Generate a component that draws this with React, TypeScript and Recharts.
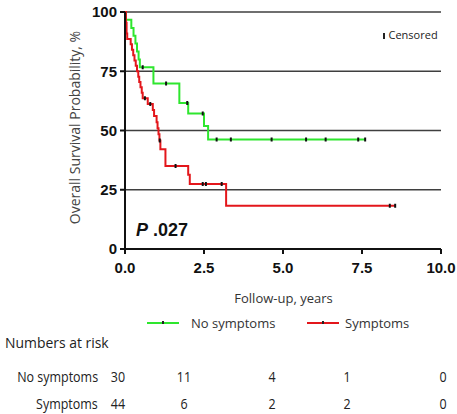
import React from "react";
import { LineChart, Line, XAxis, YAxis, CartesianGrid } from "recharts";

const seriesNames = ["No symptoms", "Symptoms"];
const seriesColors = ["#2ee62e", "#e3161b"];

// Kaplan-Meier steps: [time (years), survival %]
const noSymptomsSteps: [number, number][] = [
  [0, 100], [0.03, 96.7], [0.2, 93.3], [0.27, 90], [0.33, 86.7], [0.38, 83.3],
  [0.43, 80], [0.47, 76.7], [0.9, 69.8], [1.72, 61.6], [2.0, 57.2], [2.5, 51.9], [2.63, 46.2],
];
const noSymptomsCensored = [0.56, 1.3, 1.97, 2.46, 2.9, 3.35, 4.64, 5.73, 6.35, 7.38, 7.6];

const symptomsSteps: [number, number][] = [
  [0, 100], [0.03, 95.5], [0.05, 90.9], [0.07, 88.6], [0.18, 86.4], [0.22, 84.1], [0.26, 81.8],
  [0.3, 79.5], [0.34, 77.3], [0.38, 75], [0.42, 72.7], [0.45, 70.5], [0.49, 68.2], [0.53, 65.9],
  [0.56, 63.6], [0.72, 61.2], [0.88, 58.7], [0.92, 56.1], [1.0, 53.5], [1.03, 51], [1.06, 48.4],
  [1.09, 45.8], [1.12, 42.1], [1.28, 35], [2.0, 31.3], [2.05, 27.4], [3.2, 18.2],
];
const symptomsCensored = [0.63, 0.8, 1.1, 1.6, 2.46, 2.56, 3.06, 8.38, 8.55];

const xTicks = [0, 2.5, 5, 7.5, 10];
const yTicks = [0, 25, 50, 75, 100];
const riskLabels = ["No symptoms", "Symptoms"];
const noSymptomsAtRisk = [30, 11, 4, 1, 0];
const symptomsAtRisk = [44, 6, 2, 2, 0];
const pValueText = ".027";

type Pt = { t: number; s: number; c: boolean };

function buildKM(steps: [number, number][], censored: number[]): Pt[] {
  const pts: Pt[] = steps.map(([t, s]) => ({ t, s, c: false }));
  censored.forEach((ct) => {
    let s = steps[0][1];
    steps.forEach(([t, v]) => {
      if (t <= ct) s = v;
    });
    pts.push({ t: ct, s, c: true });
  });
  pts.sort((a, b) => a.t - b.t || (a.c ? 1 : -1));
  return pts;
}

const noSymptomsData = buildKM(noSymptomsSteps, noSymptomsCensored);
const symptomsData = buildKM(symptomsSteps, symptomsCensored);

const CensorDot = (props: any) => {
  const { cx, cy, payload, index } = props;
  if (!payload || !payload.c || cx == null || cy == null) return <g key={`e${index}`} />;
  return (
    <line key={`c${index}`} x1={cx} x2={cx} y1={cy - 2} y2={cy + 2} stroke="#111" strokeWidth={2} />
  );
};

// layout
const W = 457;
const H = 414;
const riskColX = [118, 184, 272, 347, 443];
const narrow = "'Open Sans', 'Liberation Sans', sans-serif";
const sans = "'Open Sans', 'Liberation Sans', sans-serif";

export default function App() {
  const riskRows = [noSymptomsAtRisk, symptomsAtRisk];
  const narrowStyle: React.CSSProperties = { fontFamily: narrow, fontSize: 14.5, color: "#222", whiteSpace: "nowrap" };
  return (
    <div style={{ position: "absolute", left: 0, top: 0, width: W, height: H, background: "#fff", overflow: "hidden" }}>
      <LineChart width={W} height={H} margin={{ top: 12, right: 16, left: 0, bottom: 135 }}>
        <CartesianGrid vertical={false} stroke="#3f3f3f" strokeWidth={1.6} />
        <XAxis
          type="number"
          dataKey="t"
          domain={[0, 10]}
          ticks={xTicks}
          tickFormatter={(v: number) => v.toFixed(1)}
          axisLine={{ stroke: "#111", strokeWidth: 2 }}
          tickLine={{ stroke: "#111", strokeWidth: 2 }}
          tickSize={5}
          tickMargin={8}
          height={30}
          tick={{ fill: "#111", fontSize: 15, fontWeight: 700, fontFamily: "'Liberation Sans', Arial, sans-serif" }}
          allowDataOverflow
        />
        <YAxis
          type="number"
          domain={[0, 100]}
          ticks={yTicks}
          width={125}
          axisLine={{ stroke: "#111", strokeWidth: 2 }}
          tickLine={{ stroke: "#111", strokeWidth: 2 }}
          tickSize={5}
          tickMargin={3}
          tick={{ fill: "#111", fontSize: 15, fontWeight: 700, fontFamily: "'Liberation Sans', Arial, sans-serif" }}
          label={{
            value: "Overall Survival Probability, %",
            angle: -90,
            position: "center",
            dx: 13,
            dy: -3,
            style: { fill: "#444", fontSize: 14, fontFamily: sans, textAnchor: "middle" },
          }}
        />
        <Line
          data={noSymptomsData}
          dataKey="s"
          name={seriesNames[0]}
          type="stepAfter"
          stroke={seriesColors[0]}
          strokeWidth={2}
          dot={CensorDot}
          activeDot={false}
          isAnimationActive={false}
        />
        <Line
          data={symptomsData}
          dataKey="s"
          name={seriesNames[1]}
          type="stepAfter"
          stroke={seriesColors[1]}
          strokeWidth={2}
          dot={CensorDot}
          activeDot={false}
          isAnimationActive={false}
        />
      </LineChart>

      {/* Censored key */}
      <div style={{ position: "absolute", left: 383, top: 27, fontFamily: sans, fontSize: 11, color: "#222", display: "flex", alignItems: "center" }}>
        <span style={{ display: "inline-block", width: 1.5, height: 6, background: "#222", marginRight: 4, marginTop: 3 }} />
        Censored
      </div>

      {/* P value */}
      <div style={{ position: "absolute", left: 136, top: 220, fontFamily: "'Liberation Sans', Arial, sans-serif", fontSize: 18, fontWeight: 700, color: "#111" }}>
        <span style={{ fontStyle: "italic" }}>P</span> {pValueText}
      </div>

      {/* X axis title */}
      <div style={{ position: "absolute", left: 0, width: W, top: 289, textAlign: "center", paddingLeft: 110, boxSizing: "border-box", fontFamily: sans, fontSize: 13, color: "#333" }}>
        Follow-up, years
      </div>

      {/* Legend */}
      {seriesNames.map((n, i) => (
        <div key={n} style={{ position: "absolute", left: i === 0 ? 147 : 307, top: 314, display: "flex", alignItems: "center", fontFamily: sans, fontSize: 13, color: "#333" }}>
          <span style={{ display: "inline-block", width: 32, height: 2.5, background: seriesColors[i], marginRight: i === 0 ? 12 : 6, position: "relative" }}>
            <span style={{ position: "absolute", left: 15, top: -1, width: 2, height: 3, background: "#222" }} />
          </span>
          {n}
        </div>
      ))}

      {/* Numbers at risk */}
      <div style={{ ...narrowStyle, position: "absolute", left: 5, top: 333, transform: "scaleX(0.96)", transformOrigin: "left center" }}>Numbers at risk</div>
      {riskRows.map((row, r) => (
        <React.Fragment key={r}>
          <div style={{ ...narrowStyle, position: "absolute", right: W - 98, top: 367 + r * 27, transform: "scaleX(0.86)", transformOrigin: "right center" }}>
            {riskLabels[r]}
          </div>
          {row.map((v, k) => (
            <div key={k} style={{ ...narrowStyle, position: "absolute", left: riskColX[k] - 20, width: 40, textAlign: "center", top: 367 + r * 27, transform: "scaleX(0.86)" }}>
              {v}
            </div>
          ))}
        </React.Fragment>
      ))}
    </div>
  );
}
